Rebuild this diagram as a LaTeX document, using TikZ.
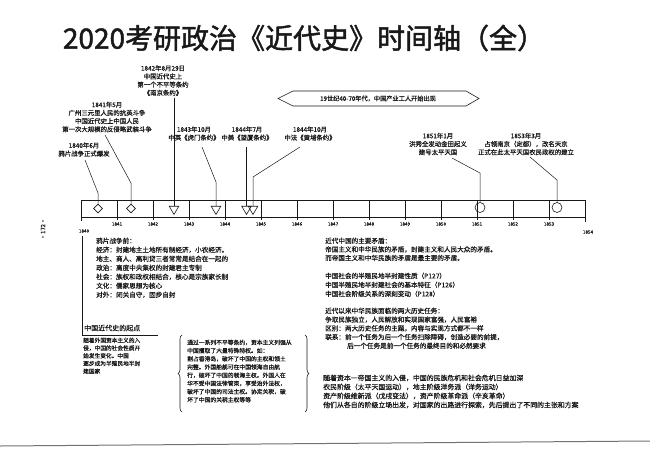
\documentclass[tikz,border=0pt]{standalone}
\usepackage{fontspec}
\setmainfont[FakeBold=0.6]{Noto Sans CJK SC}
\newfontfamily\titlefont[FakeBold=1.6]{Noto Sans CJK SC}
\usetikzlibrary{shapes.geometric,decorations.pathreplacing}
\definecolor{ink}{gray}{0.1}
\begin{document}
\begin{tikzpicture}[x=1pt,y=-1pt,
  lbl/.style={font=\fontsize{6.4}{8.2}\selectfont, align=center, inner sep=0pt, text=ink},
  body/.style={font=\fontsize{6.6}{8.8}\selectfont, align=left, inner sep=0pt, anchor=north west, text=ink},
  yr/.style={font=\fontsize{4.6}{5}\selectfont, inner sep=0pt, text=ink},
  lead/.style={draw=ink, line width=0.5pt},
  dia/.style={diamond, draw=ink, line width=0.6pt, minimum width=9pt, minimum height=9pt, inner sep=0pt},
  tri/.style={regular polygon, regular polygon sides=3, shape border rotate=180, draw=ink, line width=0.6pt, minimum size=11pt, inner sep=0pt},
  ring/.style={circle, draw=ink, line width=0.6pt, minimum size=10pt, inner sep=0pt},
]
\useasboundingbox[fill=white] (0,0) rectangle (650,461);

% title
\node[font=\titlefont\fontsize{28}{30}\selectfont, text=ink, inner sep=0pt] (title) at (304,38) {2020考研政治《近代史》时间轴（全）};

% page number
\node[font=\fontsize{6}{7}\selectfont, rotate=90, inner sep=0pt, text=ink] (pg) at (43,229) {·172·};

% timeline box
\draw[ink, line width=0.7pt] (81,200) rectangle (585,217);
\foreach \k in {1,...,13}{
  \pgfmathtruncatemacro{\yy}{1840+\k}
  \draw[ink, line width=0.6pt] ({81+36*\k},200) -- ({81+36*\k},220);
  \node[yr] (y\k) at ({81+36*\k},224) {\yy};
}
\draw[ink, line width=0.6pt] (81,217) -- (81,221);
\draw[ink, line width=0.6pt] (585,217) -- (585,222);
\node[yr] (y0) at (84,231) {1840};
\node[yr] (y14) at (588,232) {1854};

% markers
\node[dia] (m1) at (98,208.5) {};
\node[dia] (m2) at (131,208.5) {};
\node[tri] (m3) at (174,209) {};
\node[tri] (m4) at (216,209) {};
\node[tri] (m5) at (246.5,209) {};
\node[tri] (m6) at (253,209) {};
\node[ring] (m7) at (480,207.5) {};
\node[ring] (m8) at (557,207.5) {};

% event labels
\node[lbl] (e1) at (84,149.5) {1840年6月\\鸦片战争正式爆发};
\node[lbl] (e2) at (107,117) {1841年5月\\广州三元里人民的抗英斗争\\中国近代史上中国人民\\第一次大规模的反侵略武装斗争};
\node[lbl] (e3) at (163,80.5) {1842年8月29日\\中国近代史上\\第一个不平等条约\\《南京条约》};
\node[lbl] (e4) at (194,133.5) {1843年10月\\中英《虎门条约》};
\node[lbl] (e5) at (247,133.5) {1844年7月\\中美《望厦条约》};
\node[lbl] (e6) at (310,133.5) {1844年10月\\中法《黄埔条约》};
\node[lbl] (e7) at (438,144) {1851年1月\\洪秀全发动金田起义\\建号太平天国};
\node[lbl] (e8) at (526,144) {1853年3月\\占领南京（定都），改名天京\\正式在此太平天国农民政权的建立};

% leader bends
\coordinate (a1) at (85,160); \coordinate (b1) at (98,193);
\coordinate (a2) at (105,135); \coordinate (b2) at (131,183);
\coordinate (a3) at (174,98);
\coordinate (a4) at (202,147); \coordinate (b4) at (216,182);
\coordinate (a5) at (246.5,147);
\coordinate (a6) at (300,147); \coordinate (b6) at (253,177);
\coordinate (a7) at (452,158); \coordinate (b7) at (480,173);
\coordinate (a8) at (530,157); \coordinate (b8) at (557,180);
\draw[lead] (a1) -- (b1) -- (m1);
\draw[lead] (a2) -- (b2) -- (m2);
\draw[lead] (a3) -- (m3);
\draw[lead] (a4) -- (b4) -- (m4);
\draw[lead] (a5) -- (m5);
\draw[lead] (a6) -- (b6) -- (m6);
\draw[lead] (a7) -- (b7) -- (m7);
\draw[lead] (a8) -- (b8) -- (m8);

% banner
\node[font=\fontsize{6.2}{7}\selectfont, inner sep=0pt, text=ink] (ban) at (378,98.5) {19世纪40-70年代，中国产业工人开始出现};
\draw[ink, line width=0.6pt] (278,98.5) -- (293,91) -- (466,91) -- (479,98.5) -- (466,106) -- (293,106) -- cycle;

% left text block
\node[body, font=\fontsize{6.6}{9}\selectfont] (pre) at (96,237.5) {鸦片战争前：\\
经济：封建地主土地所有制经济，小农经济。\\
地主、商人、高利贷三者常常是结合在一起的\\
政治：高度中央集权的封建君主专制\\
社会：族权和政权相结合，核心是宗族家长制\\
文化：儒家思想为核心\\
对外：闭关自守，固步自封};

% origin of modern history
\coordinate (o1) at (82,236);
\coordinate (o2) at (82,335);
\coordinate (o3) at (158,335);
\draw[ink, line width=0.6pt] (o1) -- (o2) -- (o3);
\node[font=\fontsize{7}{8}\selectfont, anchor=west, inner sep=0pt, text=ink] (orig) at (84,328) {中国近代史的起点};
\node[body, font=\fontsize{5.7}{7.7}\selectfont] (og) at (83,337.5) {随着外国资本主义的入\\
侵，中国的社会性质开\\
始发生变化。中国\\
逐步成为半殖民地半封\\
建国家};

% bracket block
\coordinate (bl1) at (182,412); \coordinate (bl2) at (182,335);
\coordinate (br1) at (305,335); \coordinate (br2) at (305,412);
\draw[ink, line width=0.6pt, decorate, decoration={brace, amplitude=4pt}] (bl1) -- (bl2);
\draw[ink, line width=0.6pt, decorate, decoration={brace, amplitude=4pt}] (br1) -- (br2);
\node[body, font=\fontsize{5.8}{8.2}\selectfont] (tr) at (187,339.5) {通过一系列不平等条约，资本主义列强从\\
中国攫取了大量特殊特权。如：\\
割占香港岛，破坏了中国的主权和领土\\
完整。外国船舰可在中国领海自由航\\
行，破坏了中国的领海主权。外国人在\\
华不受中国法律管束，享受治外法权，\\
破坏了中国的司法主权。协定关税，破\\
坏了中国的关税主权等等};

% right text blocks
\node[body, font=\fontsize{6.6}{8.6}\selectfont] (mc) at (325,237.5) {近代中国的主要矛盾：\\
帝国主义和中华民族的矛盾，封建主义和人民大众的矛盾。\\
而帝国主义和中华民族的矛盾是最主要的矛盾。};
\node[body, font=\fontsize{6.6}{9}\selectfont] (ns) at (325,272.5) {中国社会的半殖民地半封建性质（P127）\\
中国半殖民地半封建社会的基本特征（P126）\\
中国社会阶级关系的深刻变动（P128）};
\node[body, font=\fontsize{6.6}{8.75}\selectfont] (tk) at (325,307.5) {近代以来中华民族面临的两大历史任务：\\
争取民族独立，人民解放和实现国家富强，人民富裕\\
区别：两大历史任务的主题，内容与实现方式都不一样\\
联系：前一个任务为后一个任务扫除障碍，创造必要的前提，\\
\hspace*{22pt}后一个任务是前一个任务的最终目的和必然要求};
\node[body, font=\fontsize{6.9}{9}\selectfont] (ex) at (323,374.5) {随着资本一帝国主义的入侵，中国的民族危机和社会危机日益加深\\
农民阶级（太平天国运动），地主阶级洋务派（洋务运动）\\
资产阶级维新派（戊戌变法），资产阶级革命派（辛亥革命）\\
他们从各自的阶级立场出发，对国家的出路进行探索，先后提出了不同的主张和方案};

% scan edge
\coordinate (s1) at (0,446); \coordinate (s2) at (650,441);
\draw[black!55, line width=1pt] (s1) -- (s2);
\end{tikzpicture}
\end{document}
